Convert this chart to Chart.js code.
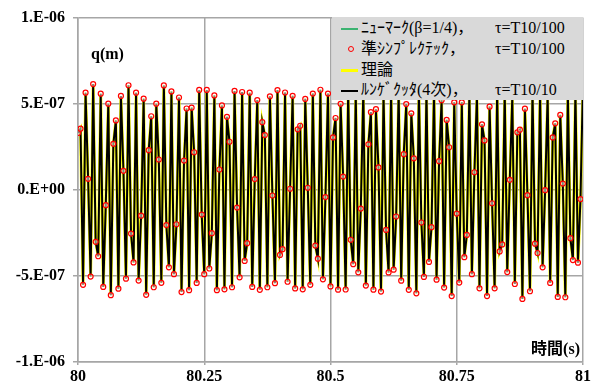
<!DOCTYPE html>
<html>
<head>
<meta charset="utf-8">
<script src="https://cdn.jsdelivr.net/npm/chart.js@4.4.1/dist/chart.umd.min.js"></script>
<style>
    body { margin: 0; background: #fff; }
    #wrap { position: relative; width: 595px; height: 387px; }
    #legend {
        position: absolute; left: 332px; top: 17px; width: 251px; height: 83px;
        background: #d9d9d9;
        font-family: "Liberation Serif", "Noto Sans CJK JP", serif;
        font-size: 16px; color: #000;
    }
    .row { position: absolute; left: 0; width: 251px; height: 20px; line-height: 20px; }
    .sym { position: absolute; left: 9px; width: 17px; }
    .lbl { position: absolute; left: 29px; top: 0; white-space: nowrap; }
    .tau { position: absolute; left: 163px; top: 0; white-space: nowrap; }
    .dot { position: absolute; left: 16px; top: 7px; width: 4px; height: 4px; border: 1px solid #ff0000; border-radius: 50%; }
</style>
</head>
<body>
<div id="wrap">
    <canvas id="qChart" width="595" height="387"></canvas>
    <div id="legend">
        <div class="row" style="top:1px"><div class="sym" style="top:10px;border-top:2px solid #3cb371"></div><span class="lbl">ﾆｭｰﾏｰｸ(β=1/4)，</span><span class="tau">τ=T10/100</span></div>
        <div class="row" style="top:22px"><div class="dot"></div><span class="lbl">準ｼﾝﾌﾟﾚｸﾃｯｸ，</span><span class="tau">τ=T10/100</span></div>
        <div class="row" style="top:43px"><div class="sym" style="top:9px;border-top:3px solid #ffff00"></div><span class="lbl">理論</span></div>
        <div class="row" style="top:63px"><div class="sym" style="top:10px;border-top:2px solid #000"></div><span class="lbl">ﾙﾝｹﾞｸｯﾀ(4次)，</span><span class="tau">τ=T10/10</span></div>
    </div>
</div>
<script>
// sampling: t = 80 + i * τ, τ = T10/100 = 0.005 s
const startTime = 80;
const sampleStep = 0.005;

// displacement q, in units of 1e-6 m
const qValues = [
    0.330, 0.355, -0.552, 0.564, 0.064, -0.504, 0.614, -0.302, -0.386, 0.558,
    -0.564, -0.089, 0.500, -0.612, 0.267, 0.403, -0.574, 0.545, 0.110, -0.516,
    0.607, -0.254, -0.422, 0.564, -0.527, -0.150, 0.529, -0.610, 0.230, 0.427,
    -0.566, 0.500, 0.176, -0.540, 0.606, -0.205, -0.450, 0.571, -0.490, -0.200,
    0.536, -0.594, 0.170, 0.472, -0.583, 0.477, 0.218, -0.541, 0.580, -0.144,
    -0.490, 0.580, -0.457, -0.252, 0.548, -0.583, 0.118, 0.490, -0.578, 0.424,
    0.279, -0.566, 0.574, -0.103, -0.508, 0.568, -0.413, -0.310, 0.564, -0.564,
    0.062, 0.521, -0.581, 0.393, 0.318, -0.566, 0.543, -0.033, -0.542, 0.579,
    -0.378, -0.345, 0.565, -0.534, 0.006, 0.546, -0.573, 0.351, 0.372, -0.578,
    0.528, 0.012, -0.552, 0.559, -0.324, -0.400, 0.581, -0.520, -0.042, 0.559,
    -0.561, 0.304, 0.417, -0.580, 0.499, 0.077, -0.579, 0.570, -0.290, -0.432,
    0.560, -0.479, -0.109, 0.580, -0.556, 0.264, 0.451, -0.580, 0.468, 0.130,
    -0.591, 0.560, -0.233, -0.480, 0.580, -0.464, -0.155, 0.570, -0.528, 0.207,
    0.498, -0.581, 0.444, 0.183, -0.601, 0.570, -0.190, -0.506, 0.580, -0.419,
    -0.217, 0.570, -0.522, 0.166, 0.520, -0.568, 0.406, 0.247, -0.617, 0.508,
    -0.138, -0.539, 0.508, -0.391, -0.262, 0.570, -0.490, 0.102, 0.550, -0.572,
    0.380, 0.287, -0.617, 0.483, -0.078, -0.572, 0.580, -0.358, -0.317, 0.570,
    -0.478, 0.058, 0.540, -0.547, 0.334, 0.349, -0.634, 0.471, -0.031, -0.589,
    0.580, -0.313, -0.367, 0.570, -0.450, -0.002, 0.550, -0.541, 0.304, 0.386,
    -0.622, 0.435, 0.036, -0.624, 0.570, -0.281, -0.408, 0.580, -0.423, -0.054,
    0.630
];

const xTickValues = [80, 80.25, 80.5, 80.75, 81];
const yTickValues = [-1e-6, -5e-7, 0, 5e-7, 1e-6];
const yTickLabels = ['-1.E-06', '-5.E-07', '0.E+00', '5.E-07', '1.E-06'];

const points = qValues.map((v, i) => ({ x: startTime + i * sampleStep, y: v * 1e-6 }));

const tickFont = { family: '"Liberation Serif", "Noto Sans CJK JP", serif', size: 16, weight: 'bold' };

// axis captions sit inside the plot area
const axisTitles = {
    id: 'axisTitles',
    afterDraw(chart) {
        const ctx = chart.ctx;
        ctx.save();
        ctx.fillStyle = '#000';
        ctx.font = 'bold 16px "Liberation Serif", "Noto Sans CJK JP", serif';
        ctx.textBaseline = 'alphabetic';
        ctx.textAlign = 'left';
        ctx.fillText('q(m)', 91, 59);
        ctx.textAlign = 'right';
        ctx.fillText('時間(s)', 580, 354);
        ctx.restore();
    }
};

new Chart(document.getElementById('qChart'), {
    type: 'line',
    data: {
        datasets: [
            {
                label: '準ｼﾝﾌﾟﾚｸﾃｯｸ',
                data: points,
                showLine: false,
                pointStyle: 'circle',
                pointRadius: 2.5,
                pointBorderWidth: 1.2,
                pointBorderColor: '#ff0000',
                pointBackgroundColor: 'rgba(255,255,255,0.5)',
                order: 0
            },
            {
                label: 'ﾙﾝｹﾞｸｯﾀ(4次)',
                data: points,
                borderColor: '#000000',
                borderWidth: 2,
                pointRadius: 0,
                tension: 0,
                order: 1
            },
            {
                label: '理論',
                data: points,
                borderColor: '#ffff00',
                borderWidth: 3,
                pointRadius: 0,
                tension: 0,
                order: 2
            },
            {
                label: 'ﾆｭｰﾏｰｸ(β=1/4)',
                data: points,
                borderColor: '#3cb371',
                borderWidth: 1,
                pointRadius: 0,
                tension: 0,
                order: 3
            }
        ]
    },
    options: {
        responsive: false,
        animation: false,
        layout: { padding: { top: 17, right: 12, left: 0, bottom: 0 } },
        plugins: { legend: { display: false }, tooltip: { enabled: false } },
        scales: {
            x: {
                type: 'linear',
                min: 80,
                max: 81,
                afterBuildTicks: (scale) => { scale.ticks = xTickValues.map(v => ({ value: v })); },
                afterFit: (scale) => { scale.height = 25; },
                ticks: {
                    color: '#000',
                    font: tickFont,
                    padding: 2,
                    maxRotation: 0,
                    callback: (value) => String(value)
                },
                grid: { color: '#a6a6a6', lineWidth: 1.5, tickLength: 3 },
                border: { color: '#a6a6a6', width: 1.5 }
            },
            y: {
                type: 'linear',
                min: -1e-6,
                max: 1e-6,
                afterBuildTicks: (scale) => { scale.ticks = yTickValues.map(v => ({ value: v })); },
                afterFit: (scale) => { scale.width = 78; },
                ticks: {
                    color: '#000',
                    font: tickFont,
                    padding: 8,
                    callback: (value, index) => yTickLabels[index]
                },
                grid: { color: '#a6a6a6', lineWidth: 1.5, tickLength: 5 },
                border: { color: '#a6a6a6', width: 1.5 }
            }
        }
    },
    plugins: [axisTitles]
});
</script>
</body>
</html>
